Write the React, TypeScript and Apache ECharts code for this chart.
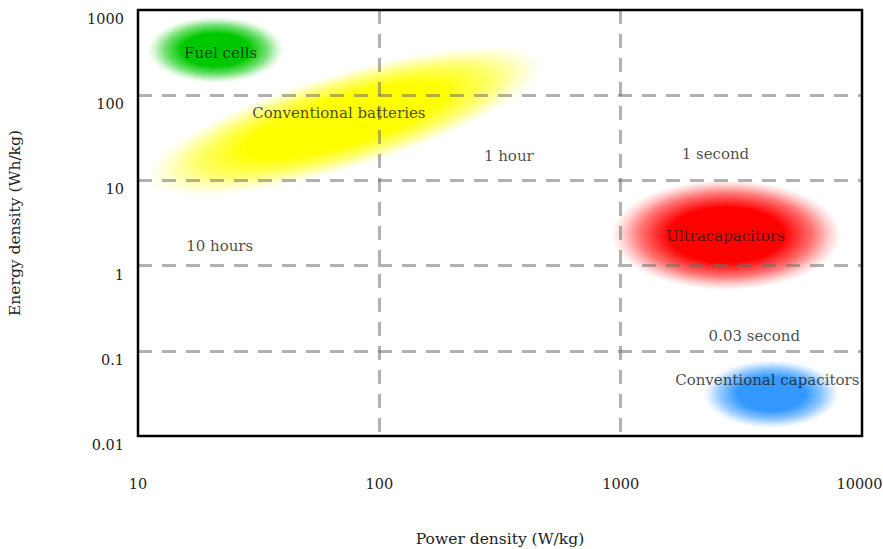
import React, { useEffect, useRef } from "react";
import * as echarts from "echarts";

// Regions: [power density (W/kg), energy density (Wh/kg)], spreads in decades, rotation deg
const regionNames = ["Fuel cells", "Conventional batteries", "Ultracapacitors", "Conventional capacitors"];
const regionCenters: [number, number][] = [
  [21, 340],
  [72, 50],
  [2740, 2.29],
  [4210, 0.031],
];
const regionSpreads: [number, number][] = [
  [0.281, 0.387],
  [0.855, 0.565],
  [0.475, 0.646],
  [0.281, 0.399],
];
const regionRotations = [0, 16.6, 0, 0];
const regionColors = ["#00c800", "#ffff00", "#ff0000", "#3399ff"];

// Text annotations placed in data space
const noteTexts = [
  "Fuel cells",
  "Conventional batteries",
  "1 hour",
  "1 second",
  "10 hours",
  "0.03 second",
  "Ultracapacitors",
  "Conventional capacitors",
];
const notePositions: [number, number][] = [
  [22, 313],
  [68, 62],
  [344, 19.3],
  [2470, 20.4],
  [21.8, 1.7],
  [3580, 0.149],
  [2720, 2.22],
  [4050, 0.0454],
];

const xTickLabels = ["10", "100", "1000", "10000"];
const yTickLabels = ["0.01", "0.1", "1", "10", "100", "1000"];

const FONT = "'DejaVu Serif', 'Liberation Serif', serif";

function rgba(hex: string, a: number) {
  const n = parseInt(hex.slice(1), 16);
  return `rgba(${(n >> 16) & 255},${(n >> 8) & 255},${n & 255},${a})`;
}

export default function App() {
  const ref = useRef<HTMLDivElement>(null);
  useEffect(() => {
    if (!ref.current) return;
    const chart = echarts.init(ref.current, null, { renderer: "svg" });
    const regionData = regionCenters.map((c, i) => ({
      name: regionNames[i],
      value: [c[0], c[1], regionSpreads[i][0], regionSpreads[i][1], regionRotations[i], i],
    }));
    const gridLine = {
      show: true,
      showMinLine: false,
      showMaxLine: false,
      lineStyle: { color: "rgba(105,105,105,0.52)", width: 3, type: [14, 10] },
    };
    chart.setOption({
      animation: false,
      backgroundColor: "#ffffff",
      grid: {
        left: 138,
        top: 10,
        right: 21,
        bottom: 113,
        show: true,
        z: 10,
        outerBoundsMode: "none",
        containLabel: false,
        backgroundColor: "transparent",
        borderColor: "#000",
        borderWidth: 2.5,
      },
      xAxis: {
        type: "log",
        logBase: 10,
        min: 10,
        max: 10000,
        z: 5,
        axisLine: { show: false },
        axisTick: { show: false },
        splitLine: gridLine,
        axisLabel: {
          margin: 40,
          fontFamily: FONT,
          fontSize: 14.5,
          color: "#222",
          formatter: (v: number) => {
            const i = Math.round(Math.log10(v)) - 1;
            const t = xTickLabels[i] ?? "";
            return i === xTickLabels.length - 1 ? `{m|${t}}` : t;
          },
          rich: {
            m: { fontFamily: FONT, fontSize: 14.5, color: "#222", padding: [0, 5, 0, 0] },
          },
        },
        name: "Power density (W/kg)",
        nameLocation: "middle",
        nameGap: 95,
        nameTextStyle: { fontFamily: FONT, fontSize: 15.5, color: "#222" },
      },
      yAxis: {
        type: "log",
        logBase: 10,
        min: 0.01,
        max: 1000,
        z: 5,
        axisLine: { show: false },
        axisTick: { show: false },
        splitLine: gridLine,
        axisLabel: {
          margin: 14,
          verticalAlign: "top",
          lineHeight: 18,
          fontFamily: FONT,
          fontSize: 14.5,
          color: "#222",
          formatter: (v: number) => yTickLabels[Math.round(Math.log10(v)) + 2] ?? "",
        },
        name: "Energy density (Wh/kg)",
        nameLocation: "middle",
        nameGap: 115,
        nameTextStyle: { fontFamily: FONT, fontSize: 15.5, color: "#222" },
      },
      series: [
        {
          type: "custom",
          clip: false,
          z: 2,
          data: regionData,
          renderItem: (params: any, api: any) => {
            const x = api.value(0);
            const y = api.value(1);
            const sx = api.value(2);
            const sy = api.value(3);
            const rot = api.value(4);
            const idx = api.value(5);
            const c = api.coord([x, y]);
            const px = api.coord([x * Math.pow(10, sx), y]);
            const py = api.coord([x, y * Math.pow(10, sy)]);
            const rx = px[0] - c[0];
            const ry = c[1] - py[1];
            const col = regionColors[idx];
            return {
              type: "circle",
              x: c[0],
              y: c[1],
              scaleX: rx / ry,
              scaleY: 1,
              rotation: (rot * Math.PI) / 180,
              shape: { cx: 0, cy: 0, r: ry },
              style: {
                fill: new echarts.graphic.RadialGradient(0.5, 0.5, 0.5, [
                  { offset: 0, color: rgba(col, 1) },
                  { offset: 0.5, color: rgba(col, 1) },
                  { offset: 0.75, color: rgba(col, 0.55) },
                  { offset: 0.9, color: rgba(col, 0.18) },
                  { offset: 1, color: rgba(col, 0) },
                ]),
              },
            };
          },
        },
        {
          type: "scatter",
          z: 6,
          symbolSize: 1,
          itemStyle: { color: "transparent" },
          data: notePositions.map((p, i) => ({ value: p, name: noteTexts[i] })),
          label: {
            show: true,
            position: "inside",
            formatter: "{b}",
            fontFamily: FONT,
            fontSize: 15,
            color: "#1a1a1a",
            align: "center",
            verticalAlign: "middle",
          },
        },
      ],
    });
    return () => chart.dispose();
  }, []);
  return (
    <div
      ref={ref}
      style={{ position: "fixed", left: 0, top: 0, width: 883, height: 549 }}
    />
  );
}
